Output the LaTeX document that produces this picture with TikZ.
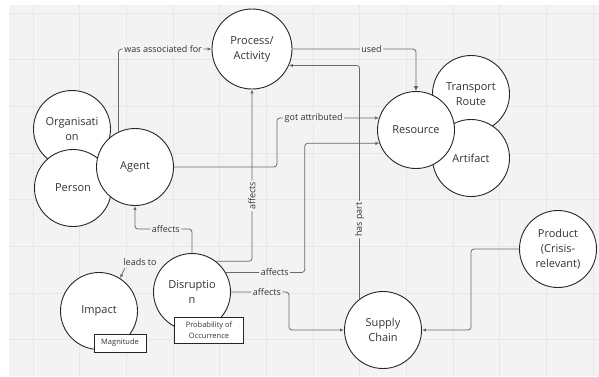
\documentclass[tikz,border=0pt]{standalone}
\usepackage{fontspec}
\setmainfont{Open Sans}
\usetikzlibrary{arrows.meta,calc}
\definecolor{bgc}{HTML}{F3F3F3}
\definecolor{gridc}{HTML}{E7E7E7}
\definecolor{linec}{HTML}{6A6A6A}
\definecolor{strokec}{HTML}{262626}
\definecolor{textc}{HTML}{333333}
\begin{document}
\begin{tikzpicture}[x=1pt,y=-1pt,
 ent/.style={circle,draw=strokec,fill=white,line width=0.9pt,minimum size=77pt,inner sep=0pt,align=center,font=\fontsize{11}{15}\selectfont,text=textc},
 attr/.style={rectangle,draw=strokec,fill=white,line width=0.9pt,align=center,font=\fontsize{7.5}{11}\selectfont,inner sep=1pt,text=textc},
 conn/.style={draw=linec,line width=0.8pt,rounded corners=3pt,-{Latex[length=4pt,width=3.5pt]}},
 lbl/.style={fill=bgc,inner sep=1.5pt,font=\fontsize{9}{10}\selectfont,text=textc}
]
\useasboundingbox (0,0) rectangle (599,376);
\fill[white] (0,0) rectangle (599,376);
\fill[bgc] (9,5) rectangle (599,376);
\foreach \i in {0,...,12} \draw[gridc,line width=0.6pt] ({33+46.67*\i},5) -- ({33+46.67*\i},376);
\foreach \j in {0,...,7} \draw[gridc,line width=0.6pt] (9,{13+46.67*\j}) -- (599,{13+46.67*\j});

% entities
\node[ent] (org) at (72,129) {Organisati\\on};
\node[ent] (person) at (73,188) {Person};
\node[ent] (agent) at (135,167) {Agent};
\node[ent] (transport) at (471,94) {Transport\\Route};
\node[ent] (artifact) at (471,158) {Artifact};
\node[ent] (resource) at (416,130) {Resource};
\node[ent,minimum size=80pt] (process) at (252,49) {Process/\\Activity};
\node[ent] (impact) at (99,311) {Impact};
\node[attr,minimum width=52pt,minimum height=18pt] (magnitude) at (120,343) {Magnitude};
\node[ent] (disruption) at (192,292) {Disruptio\\n};
\node[attr,minimum width=69pt,minimum height=26pt] (prob) at (209,330) {Probability of\\Occurrence};
\node[ent] (supply) at (383,330) {Supply\\Chain};
\node[ent] (product) at (558,249) {Product\\(Crisis-\\relevant)};

% connectors
\draw[conn] (agent.115) |- node[lbl,pos=0.74] {was associated for} (process.west);
\draw[conn,-{Latex[length=5pt,width=5pt]}] (process.east) -| node[lbl,pos=0.32] {used} (resource.north);
\draw[conn] (supply.127) |- node[lbl,pos=0.17,rotate=90] {has part} (process.-24);
\draw[conn] (agent.east) -- ++(103,0) |- node[lbl,pos=0.68] {got attributed} (resource.162);
\draw[conn] (disruption.52) -| node[lbl,pos=0.69,rotate=90] {affects} (process.south);
\draw[conn] (disruption.north) -- ++(0,-24) -| node[lbl,pos=0.23] {affects} (agent.south);
\draw[conn] (disruption.30) -- node[lbl,pos=0.62] {affects} ++(79,0) |- (resource.200);
\draw[conn] (disruption.east) -- node[lbl,pos=0.62] {affects} ++(58,0) |- (supply.west);
\draw[conn] (product.west) -- ++(-48,0) |- (supply.east);
\node[lbl] (leads) at (140,262) {leads to};
\draw[conn] (leads.south west) ++(3,1) -- (impact.57);
\end{tikzpicture}
\end{document}
